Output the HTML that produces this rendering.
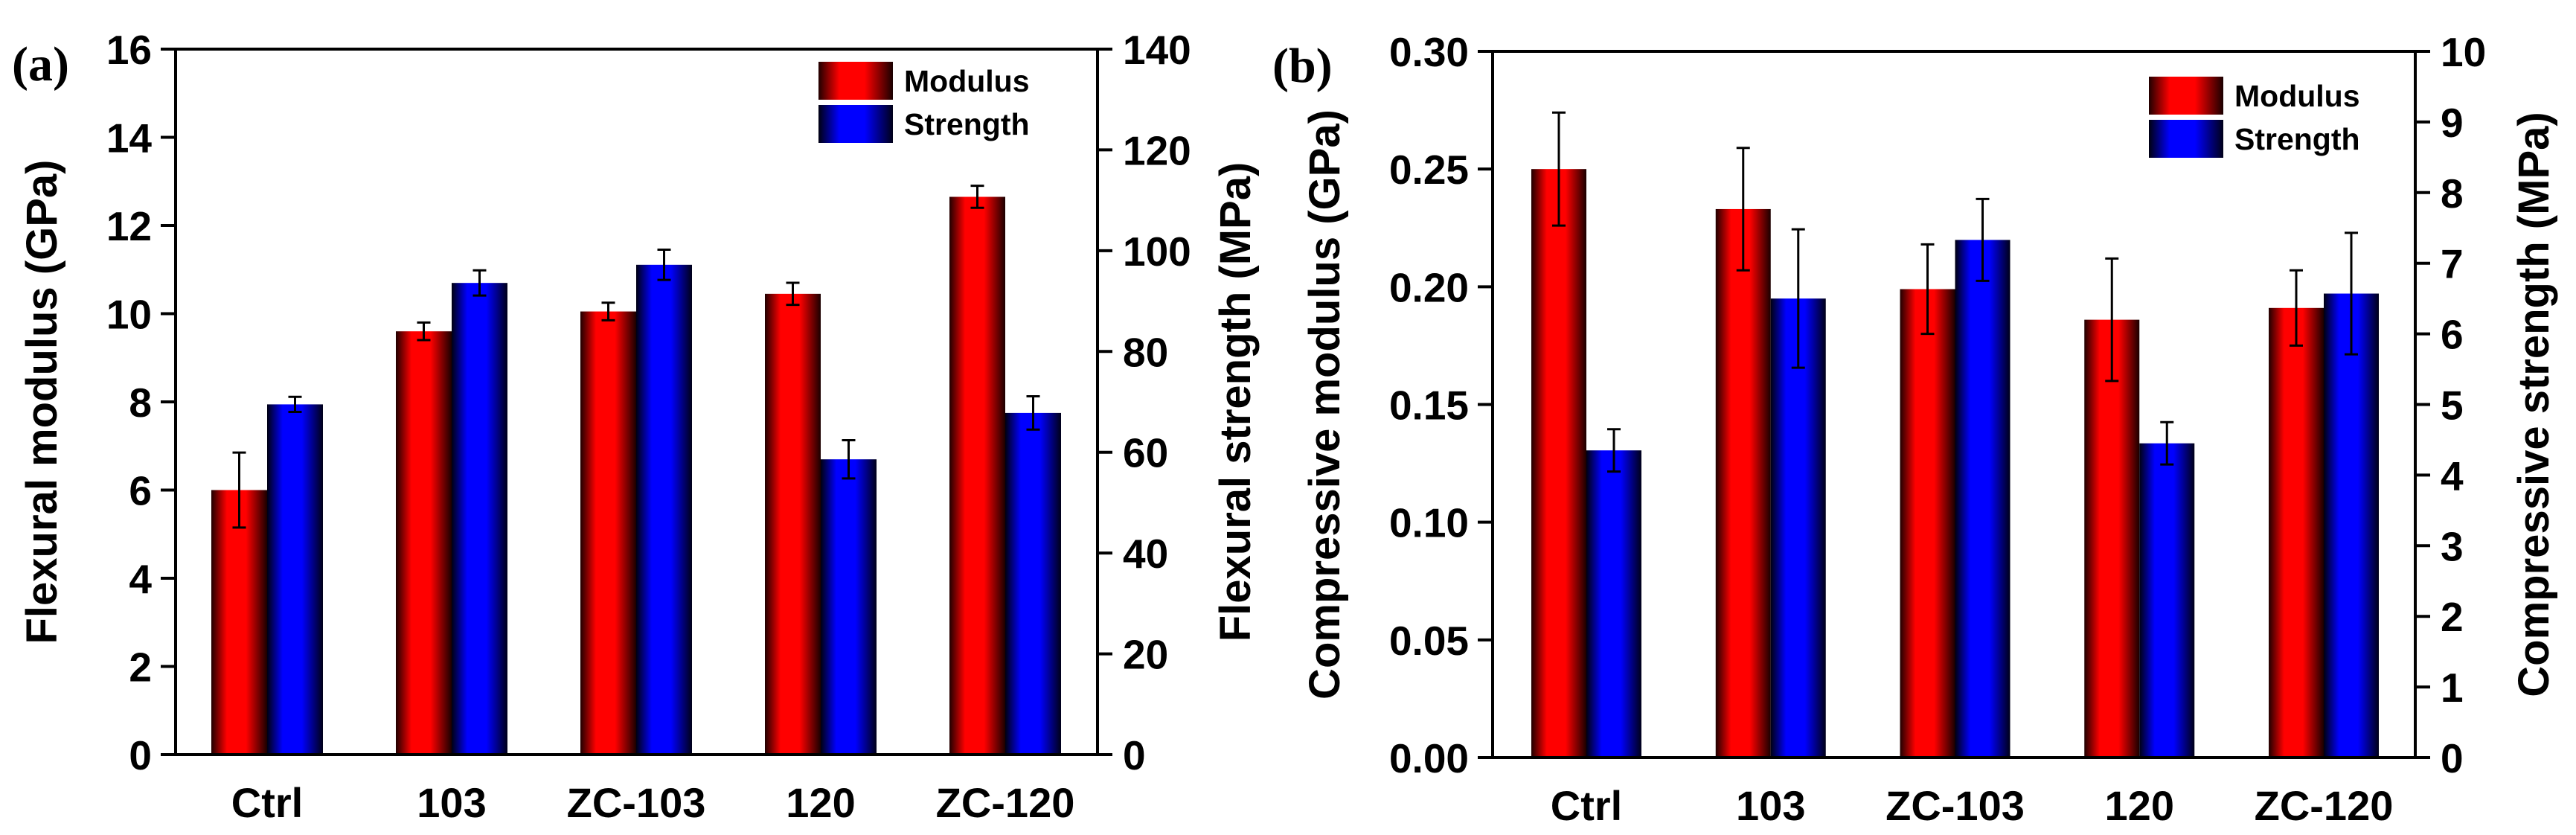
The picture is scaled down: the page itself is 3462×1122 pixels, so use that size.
<!DOCTYPE html>
<html><head><meta charset="utf-8"><style>
html,body{margin:0;padding:0;background:#fff;}
svg{display:block;font-family:"Liberation Sans",Arial,sans-serif;font-weight:bold;}
</style></head><body>
<svg id="chart" width="3462" height="1122" viewBox="0 0 3462 1122" xmlns="http://www.w3.org/2000/svg">
<defs>
<linearGradient id="gr" x1="0" x2="1" y1="0" y2="0"><stop offset="0" stop-color="#200000"/><stop offset="0.28" stop-color="#ff0000"/><stop offset="0.62" stop-color="#ff0000"/><stop offset="1" stop-color="#1a0000"/></linearGradient>
<linearGradient id="gb" x1="0" x2="1" y1="0" y2="0"><stop offset="0" stop-color="#000010"/><stop offset="0.28" stop-color="#0000ff"/><stop offset="0.62" stop-color="#0000ff"/><stop offset="1" stop-color="#000018"/></linearGradient>
</defs>
</svg>
<script>
const categories=["Ctrl","103","ZC-103","120","ZC-120"];
const aModulus=[6.0,9.6,10.05,10.45,12.65];
const aModulusErr=[0.85,0.2,0.2,0.25,0.25];
const aStrength=[69.5,93.6,97.2,58.6,67.8];
const aStrengthErr=[1.5,2.5,3.0,3.8,3.3];
const aLeftTicks=[0,2,4,6,8,10,12,14,16];
const aRightTicks=[0,20,40,60,80,100,120,140];
const bModulus=[0.250,0.233,0.199,0.186,0.191];
const bModulusErr=[0.024,0.026,0.019,0.026,0.016];
const bStrength=[4.35,6.5,7.33,4.45,6.57];
const bStrengthErr=[0.3,0.98,0.58,0.3,0.86];
const bLeftTicks=[0,0.05,0.10,0.15,0.20,0.25,0.30];
const bRightTicks=[0,1,2,3,4,5,6,7,8,9,10];

const svg=document.getElementById('chart');
const NS="http://www.w3.org/2000/svg";
function mk(tag,attrs,parent){const e=document.createElementNS(NS,tag);for(const k in attrs)e.setAttribute(k,attrs[k]);(parent||svg).appendChild(e);return e;}

function panel(p){
  const g=mk('g',{});
  
  
  const yL=v=>p.bottom-(v-0)/p.lmax*(p.bottom-p.top);
  const yR=v=>p.bottom-(v-0)/p.rmax*(p.bottom-p.top);
  const xC=i=>p.c0+i*p.step;
  const bw=p.bw;
  categories.forEach((c,i)=>{
    const r=mk('rect',{x:xC(i)-bw,y:yL(p.mod[i]),width:bw,height:p.bottom-yL(p.mod[i]),fill:'url(#gr)'},g);
    
    
    const b=mk('rect',{x:xC(i),y:yR(p.str[i]),width:bw,height:p.bottom-yR(p.str[i]),fill:'url(#gb)'},g);
    
    
    [[xC(i)-bw/2,yL(p.mod[i]+p.modE[i]),yL(p.mod[i]-p.modE[i])],[xC(i)+bw/2,yR(p.str[i]+p.strE[i]),yR(p.str[i]-p.strE[i])]].forEach(([x,y1,y2],k)=>{
      const e=mk('path',{d:`M${x},${y1}V${y2}M${x-9},${y1}H${x+9}M${x-9},${y2}H${x+9}`,stroke:'#000','stroke-width':3,fill:'none'},g);
      
      
    });
    const t=mk('text',{x:xC(i),y:p.bottom+84,'text-anchor':'middle','font-size':56},g);
    t.textContent=c;
    
    
  });
  const ax=mk('path',{d:`M${p.left-20},${p.top}H${p.right+20}M${p.left-20},${p.bottom}H${p.right+20}M${p.left},${p.top}V${p.bottom}M${p.right},${p.top}V${p.bottom}`,stroke:'#000','stroke-width':4,fill:'none'},g);
  
  
  p.lt.forEach(v=>{
    mk('path',{d:`M${p.left-20},${yL(v)}H${p.left}`,stroke:'#000','stroke-width':4},g);
    const t=mk('text',{x:p.left-32,y:yL(v)+20,'text-anchor':'end','font-size':55},g);
    t.textContent=p.lfmt(v);
    
    
  });
  p.rt.forEach(v=>{
    mk('path',{d:`M${p.right},${yR(v)}H${p.right+20}`,stroke:'#000','stroke-width':4},g);
    const t=mk('text',{x:p.right+34,y:yR(v)+20,'text-anchor':'start','font-size':55},g);
    t.textContent=String(v);
    
    
  });
  const mid=(p.top+p.bottom)/2;
  const lt=mk('text',{x:p.ltx,y:mid,'text-anchor':'middle','font-size':p.tfs,transform:`rotate(-90 ${p.ltx} ${mid})`},g);
  lt.textContent=p.ltitle;
  
  
  const rt=mk('text',{x:p.rtx,y:mid,'text-anchor':'middle','font-size':p.tfs,transform:`rotate(-90 ${p.rtx} ${mid})`},g);
  rt.textContent=p.rtitle;
  
  
  const lg=mk('g',{},g);
  
  
  mk('rect',{x:p.lgx,y:p.lgy,width:100,height:51,fill:'url(#gr)'},lg);
  mk('rect',{x:p.lgx,y:p.lgy+58,width:100,height:51,fill:'url(#gb)'},lg);
  const l1=mk('text',{x:p.lgx+115,y:p.lgy+40,'font-size':41},lg);l1.textContent='Modulus';
  
  
  const l2=mk('text',{x:p.lgx+115,y:p.lgy+98,'font-size':41},lg);l2.textContent='Strength';
  
  
  const pl=mk('text',{x:p.plx,y:p.ply,'font-size':66,'font-family':'"Liberation Serif",serif','font-weight':'bold'},g);
  pl.textContent=p.plabel;
  
  
}
panel({name:'panel-a',left:236,right:1475,top:66,bottom:1014,c0:359,step:248,bw:75,
  mod:aModulus,modE:aModulusErr,str:aStrength,strE:aStrengthErr,lmax:16,rmax:140,lt:aLeftTicks,rt:aRightTicks,
  lfmt:v=>String(v),ltx:76,rtx:1680,tfs:58,ltitle:'Flexural modulus (GPa)',rtitle:'Flexural strength (MPa)',
  lgx:1100,lgy:83,plabel:'(a)',plx:16,ply:108});
panel({name:'panel-b',left:2006,right:3246,top:69,bottom:1018,c0:2132,step:247.75,bw:74,
  mod:bModulus,modE:bModulusErr,str:bStrength,strE:bStrengthErr,lmax:0.30,rmax:10,lt:bLeftTicks,rt:bRightTicks,
  lfmt:v=>v.toFixed(2),ltx:1800,rtx:3425,tfs:58,ltitle:'Compressive modulus (GPa)',rtitle:'Compressive strength (MPa)',
  lgx:2888,lgy:103,plabel:'(b)',plx:1710,ply:110});
</script>
</body></html>
